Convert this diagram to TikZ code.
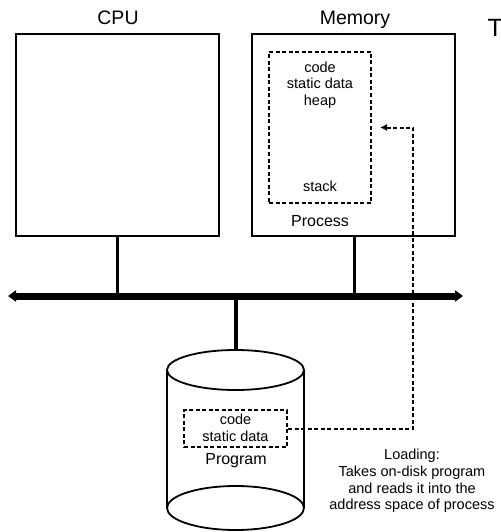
\documentclass[tikz,border=0pt]{standalone}
\usepackage{fontspec}
\setmainfont{Liberation Sans}
\usetikzlibrary{arrows.meta}
\begin{document}
\begin{tikzpicture}[x=1pt,y=-1pt,
  box/.style={draw, line width=2pt, fill=white, inner sep=0pt},
  dbox/.style={draw, line width=2pt, dash pattern=on 4pt off 2.5pt, inner sep=0pt},
  lbl/.style={inner sep=0pt, font=\fontsize{14.5}{16.5}\selectfont, align=center},
  ttl/.style={inner sep=0pt, anchor=base, font=\fontsize{19.5}{22}\selectfont},
  conn/.style={line width=3pt},
  dconn/.style={line width=2pt, dash pattern=on 4pt off 2.5pt},
]
\useasboundingbox (0,0) rectangle (500,532);

% boxes
\node[box, minimum width=203pt, minimum height=202pt] (cpu) at (117.5,135) {};
\node[box, minimum width=203pt, minimum height=202pt] (mem) at (353.5,135) {};
\node[ttl] (cputitle) at (118,25) {CPU};
\node[ttl] (memtitle) at (355,25) {Memory};
\node[ttl, anchor=base west, font=\fontsize{25}{28}\selectfont] (tcut) at (487.5,37) {T};

% process
\node[dbox, minimum width=102pt, minimum height=151pt] (proc) at (320,127.5) {};
\node[lbl] (proctext) at (320,85) {code\\static data\\heap};
\node[lbl] (stack) at (320,186) {stack};
\node[inner sep=0pt, anchor=base, font=\fontsize{16}{18}\selectfont] (proclbl) at (320,226) {Process};

% bus
\coordinate (busL) at (8,296);
\coordinate (busR) at (463,296);
\draw[line width=7pt, {Triangle[length=8pt,width=11pt]}-{Triangle[length=8pt,width=11pt]}] (busL) -- (busR);
\draw[conn] (cpu.south) -- (cpu.south |- busL);
\draw[conn] ([xshift=0.5pt]mem.south) -- ([xshift=0.5pt]mem.south |- busL);

% disk
\coordinate (disktop) at (235.5,350);
\fill[white] (167,370) rectangle (304,508);
\draw[line width=1.8pt, fill=white] (235.5,370) ellipse (68.5pt and 20pt);
\draw[line width=1.8pt] (235.5,508) ellipse (68.5pt and 22pt);
\draw[line width=1.8pt] (167,370) -- (167,508);
\draw[line width=1.8pt] (304,370) -- (304,508);
\draw[line width=4pt] (disktop |- busL) -- (disktop);

\node[dbox, minimum width=103pt, minimum height=37pt] (prog) at (235.5,428.5) {};
\node[lbl, font=\fontsize{14.5}{17}\selectfont] (progtext) at (235.5,427.5) {code\\static data};
\node[inner sep=0pt, font=\fontsize{16}{18}\selectfont] (proglbl) at (236,461) {Program};

% loading arrow
\coordinate (turn1) at (413,428.5);
\coordinate (turn2) at (413,127.5);
\draw[dconn, -{Latex[length=7pt,width=7pt]}, shorten >=8pt] (prog.east) -- (turn1) -- (turn2) -- (proc.east);

\node[lbl, font=\fontsize{14.5}{16.7}\selectfont] (loading) at (412,481) {Loading:\\Takes on-disk program\\and reads it into the\\address space of process};
\end{tikzpicture}
\end{document}
